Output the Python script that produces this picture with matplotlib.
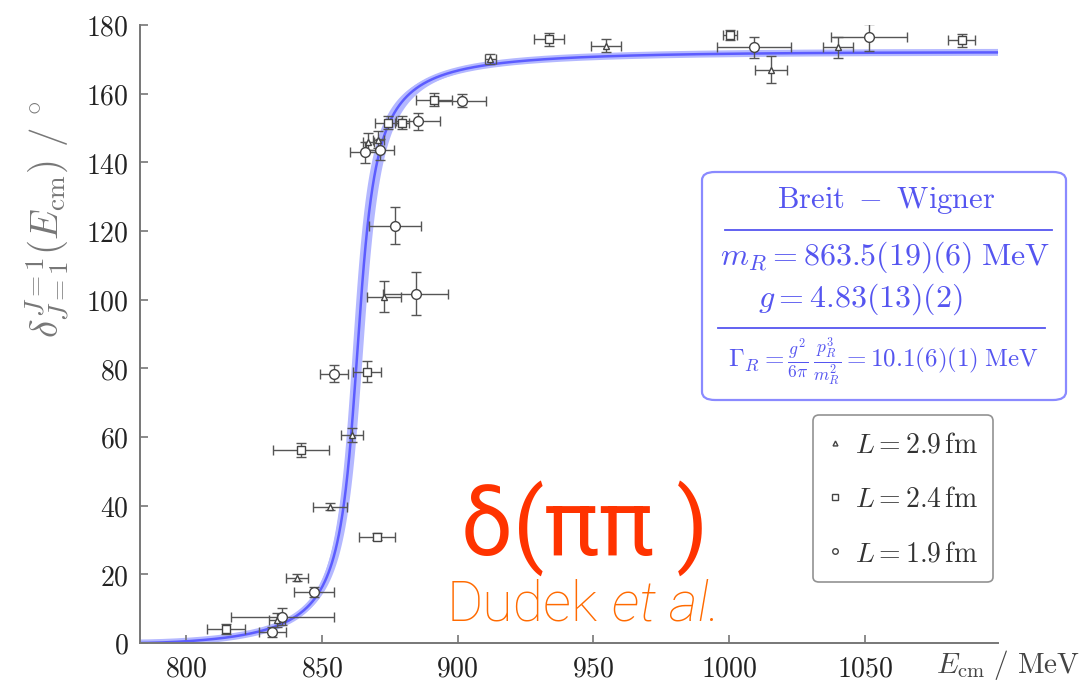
import numpy as np
import matplotlib
matplotlib.use("Agg")
import matplotlib.pyplot as plt
from matplotlib.lines import Line2D
from matplotlib.patches import FancyBboxPatch

plt.rcParams['mathtext.fontset'] = 'cm'

# ---------------- data ----------------
# L = 2.9 fm (triangles)
x_29 = [954.6, 912.0, 1015.4, 1040.0, 867.0, 870.7, 872.9, 861.1, 853.0, 840.9, 833.5]
y_29 = [174.0, 170.0, 167.0, 173.5, 146.0, 146.6, 100.9, 60.6, 39.7, 19.0, 6.7]
xe_29 = [5.5, 2.0, 6.0, 5.5, 2.0, 2.0, 6.3, 4.0, 6.4, 4.0, 3.0]
ye_29 = [2.0, 1.5, 4.0, 3.0, 2.5, 2.5, 4.5, 2.0, 1.0, 1.0, 2.0]

# L = 2.4 fm (squares)
x_24 = [933.6, 1000.3, 1085.7, 891.3, 874.4, 879.5, 866.6, 842.3, 870.3, 814.7]
y_24 = [175.8, 177.0, 175.5, 158.3, 151.6, 151.6, 79.0, 56.3, 30.9, 4.1]
xe_24 = [5.5, 2.5, 5.0, 6.6, 4.8, 2.5, 5.0, 10.3, 6.6, 7.0]
ye_24 = [2.0, 1.5, 2.0, 2.0, 2.0, 2.0, 3.0, 2.0, 1.0, 1.5]

# L = 1.9 fm (circles)
x_19 = [1009.0, 1051.5, 901.6, 885.4, 865.9, 871.4, 877.0, 884.5, 854.5, 847.0, 835.4, 831.7]
y_19 = [173.5, 176.4, 158.0, 152.0, 142.9, 143.7, 121.6, 101.7, 78.4, 14.9, 7.6, 3.2]
xe_19 = [13.6, 14.0, 9.0, 8.0, 5.5, 5.0, 9.6, 12.0, 5.2, 7.4, 19.0, 5.0]
ye_19 = [3.0, 4.0, 2.0, 2.5, 3.0, 3.0, 5.5, 6.3, 2.5, 1.5, 2.5, 1.5]

# Breit-Wigner fit parameters (from the chart's annotation)
m_R, m_R_err = 863.5, 1.9
g_c = 4.83
m_pi = 391.0

x_ticks = [800, 850, 900, 950, 1000, 1050]
y_ticks = [0, 20, 40, 60, 80, 100, 120, 140, 160, 180]
legend_labels = [r'$L = 2.9\,\mathrm{fm}$', r'$L = 2.4\,\mathrm{fm}$', r'$L = 1.9\,\mathrm{fm}$']


def bw_phase(E, m, g):
    p = np.sqrt(np.clip(E**2 / 4 - m_pi**2, 0, None))
    gam = g**2 / (6 * np.pi) * p**3 / E**2
    return np.degrees(np.arctan2(E * gam, m**2 - E**2))


W, H = 1085, 687
fig = plt.figure(figsize=(W / 100, H / 100), dpi=100)
ax = fig.add_axes([140 / W, 1 - 643 / H, (998 - 140) / W, (643 - 25) / H])

E = np.linspace(2 * m_pi + 0.01, 1099, 1000)
c1 = bw_phase(E, m_R - m_R_err, g_c)
c2 = bw_phase(E, m_R + m_R_err, g_c)
lo = np.minimum(c1, c2)
hi = np.maximum(c1, c2)
ax.fill_between(E, lo, hi, color='#b4b8ff', lw=0, zorder=1)
ax.plot(E, bw_phase(E, m_R, g_c), color='#b4b8ff', lw=5, zorder=1, solid_capstyle='butt')
ax.plot(E, bw_phase(E, m_R, g_c), color='#5c5cff', lw=1.8, zorder=2)

ecol = '#555555'
common = dict(ls='none', ecolor=ecol, elinewidth=1.0, capsize=3.5, capthick=1.0,
              mfc='white', mec='#444444', mew=1.0, zorder=3)
ax.errorbar(x_29, y_29, xerr=xe_29, yerr=ye_29, fmt='^', ms=5, **common)
ax.errorbar(x_24, y_24, xerr=xe_24, yerr=ye_24, fmt='s', ms=6, **common)
ax.errorbar(x_19, y_19, xerr=xe_19, yerr=ye_19, fmt='o', ms=7, **common)

ax.set_xlim(783, 1099)
ax.set_ylim(0, 180)
for s in ('top', 'right'):
    ax.spines[s].set_visible(False)
for s in ('left', 'bottom'):
    ax.spines[s].set_color('#777777')
    ax.spines[s].set_linewidth(1.4)
ax.set_xticks(x_ticks)
ax.set_xticklabels([f'${v}$' for v in x_ticks])
ax.set_yticks(y_ticks)
ax.set_yticklabels([f'${v}$' for v in y_ticks])
ax.tick_params(direction='in', length=6, width=1.2, color='#777777',
               labelsize=20, labelcolor='#222222', pad=8)

# legend
handles = [Line2D([], [], ls='none', marker=m, ms=ms, mfc='white', mec='#444444', mew=1.0)
           for m, ms in (('^', 3.5), ('s', 4), ('o', 4))]
leg = ax.legend(handles, legend_labels, loc='upper right',
                bbox_to_anchor=((993 - 140) / 858, (643 - 415) / 618),
                fontsize=20, frameon=True, fancybox=True, handlelength=0.5,
                handletextpad=0.45, labelspacing=0.95, borderpad=0.55,
                borderaxespad=0.0, labelcolor='#333333')
leg.get_frame().set_edgecolor('#777777')
leg.get_frame().set_linewidth(1.2)


def fx(px):
    return px / W


def fy(py):
    return 1 - py / H


blue = '#5555f0'
box = FancyBboxPatch((fx(702), fy(400)), fx(1066) - fx(702), fy(172) - fy(400),
                     boxstyle='round,pad=0,rounding_size=0.012',
                     transform=fig.transFigure, fc='white', ec='#8a8aff', lw=1.6, zorder=1)
fig.patches.append(box)
tk = dict(color=blue, ha='center', va='center', zorder=6)
fig.text(fx(886), fy(201), r'$\mathrm{Breit\ -\ Wigner}$', fontsize=22, **tk)
fig.lines.append(Line2D([fx(725), fx(1052)], [fy(230), fy(230)], transform=fig.transFigure,
                        color=blue, lw=1.3, zorder=6))
fig.text(fx(885), fy(257), r'$m_R = 863.5(19)(6)\;\mathrm{MeV}$', fontsize=23, **tk)
fig.text(fx(860), fy(299), r'$g = 4.83(13)(2)$', fontsize=23, **tk)
fig.lines.append(Line2D([fx(718), fx(1045)], [fy(328), fy(328)], transform=fig.transFigure,
                        color=blue, lw=1.3, zorder=6))
fig.text(fx(884), fy(362),
         r'$\Gamma_R = \frac{g^2}{6\pi}\,\frac{p_R^3}{m_R^2} = 10.1(6)(1)\;\mathrm{MeV}$',
         fontsize=18, **tk)

# axis labels
fig.text(fx(47), fy(219), r'$\delta^{J=1}_{J=1}(E_{\mathrm{cm}})\ /\ ^{\circ}$', color='#777777',
         fontsize=28, rotation=90, ha='center', va='center')
fig.text(fx(1008), fy(665), r'$E_{\mathrm{cm}}\ /\ \mathrm{MeV}$', color='#444444',
         fontsize=21, ha='center', va='center')

# overlay annotations
fig.text(fx(585), fy(528), 'δ(ππ )', color='#ff3300', fontsize=66,
         family=['Roboto', 'DejaVu Sans'], weight='normal', ha='center', va='center')
fig.text(fx(598), fy(605), 'Dudek', color='#ff6a00', fontsize=40,
         family=['Roboto', 'DejaVu Sans'], weight='light', ha='right', va='center')
fig.text(fx(612), fy(605), 'et al.', color='#ff6a00', fontsize=40, style='italic',
         family=['Roboto', 'DejaVu Sans'], weight='light', ha='left', va='center')

fig.savefig('out.png', dpi=100)
